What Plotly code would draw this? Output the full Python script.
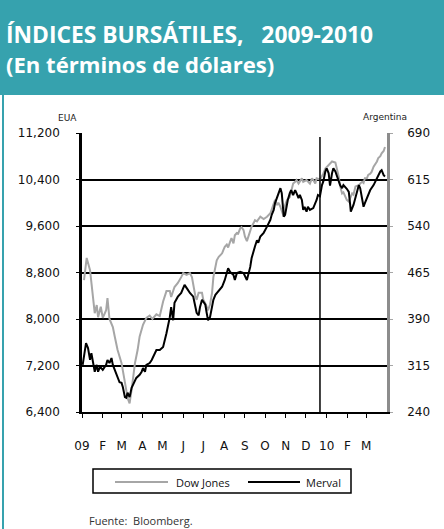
import plotly.graph_objects as go

# ---------------- data ----------------
dow_dates = [
    "2009-01-04","2009-01-08","2009-01-13","2009-01-15","2009-01-17","2009-01-18","2009-01-20","2009-01-23",
    "2009-01-25","2009-01-29","2009-02-01","2009-02-06","2009-02-08","2009-02-11","2009-02-16","2009-02-19",
    "2009-02-23","2009-03-01","2009-03-06","2009-03-08","2009-03-10","2009-03-13","2009-03-16","2009-03-18",
    "2009-03-21","2009-03-25","2009-03-28","2009-04-02","2009-04-07","2009-04-12","2009-04-16","2009-04-22",
    "2009-04-27","2009-05-02","2009-05-07","2009-05-12","2009-05-14","2009-05-19","2009-05-24","2009-05-29",
    "2009-06-01","2009-06-06","2009-06-11","2009-06-14","2009-06-16","2009-06-19","2009-06-21","2009-06-24",
    "2009-06-29","2009-07-01","2009-07-04","2009-07-07","2009-07-08","2009-07-11","2009-07-14","2009-07-16",
    "2009-07-19","2009-07-21","2009-07-24","2009-07-29","2009-07-31","2009-08-02","2009-08-05","2009-08-07",
    "2009-08-10","2009-08-12","2009-08-15","2009-08-17","2009-08-20","2009-08-22","2009-08-25","2009-08-27",
    "2009-08-30","2009-09-01","2009-09-04","2009-09-06","2009-09-09","2009-09-11","2009-09-14","2009-09-16",
    "2009-09-19","2009-09-21","2009-09-24","2009-09-29","2009-10-04","2009-10-09","2009-10-14","2009-10-16",
    "2009-10-19","2009-10-21","2009-10-24","2009-10-26","2009-10-29","2009-10-31","2009-11-03","2009-11-07",
    "2009-11-12","2009-11-15","2009-11-17","2009-11-20","2009-11-22","2009-11-25","2009-11-27","2009-12-02",
    "2009-12-07","2009-12-10","2009-12-12","2009-12-15","2009-12-17","2009-12-22","2009-12-25","2009-12-27",
    "2009-12-30","2010-01-04","2010-01-09","2010-01-14","2010-01-16","2010-01-19","2010-01-21","2010-01-24",
    "2010-01-26","2010-01-29","2010-01-31","2010-02-03","2010-02-05","2010-02-08","2010-02-10","2010-02-13",
    "2010-02-15","2010-02-18","2010-02-20","2010-02-23","2010-02-25","2010-02-27","2010-03-02","2010-03-04",
    "2010-03-07","2010-03-09","2010-03-12","2010-03-14","2010-03-17","2010-03-19","2010-03-22","2010-03-24",
    "2010-03-27","2010-03-29",
]
dow_values = [
    8670, 9050, 8840, 8620, 8450, 8270, 8100, 8240,
    8030, 8210, 8020, 8150, 8360, 8000, 7860, 7690,
    7470, 7240, 6950, 6780, 6640, 6550, 6780, 7000,
    7240, 7470, 7700, 7900, 8020, 8060, 8000, 8080,
    8050, 8300, 8480, 8480, 8380, 8550, 8620, 8720,
    8790, 8760, 8790, 8720, 8580, 8400, 8330, 8450,
    8450, 8330, 8270, 8180, 8150, 8250, 8450, 8720,
    8900, 9010, 9070, 9130, 9190, 9240, 9280, 9230,
    9330, 9390, 9300, 9440, 9480, 9470, 9560, 9580,
    9530, 9420, 9340, 9420, 9530, 9590, 9650, 9700,
    9680, 9720, 9760, 9720, 9760, 9820, 9990, 10050,
    9960, 10000, 9930, 9870, 9760, 9960, 10050, 10100,
    10330, 10360, 10390, 10330, 10360, 10420, 10360, 10390,
    10330, 10420, 10390, 10330, 10420, 10400, 10460, 10500,
    10590, 10650, 10710, 10690, 10600, 10450, 10290, 10160,
    10180, 10100, 10050, 10020, 10080, 10160, 10140, 10280,
    10290, 10300, 10330, 10360, 10340, 10420, 10420, 10480,
    10500, 10530, 10620, 10650, 10710, 10770, 10800, 10850,
    10890, 10960,
]

merval_dates = [
    "2009-01-02","2009-01-07","2009-01-10","2009-01-13","2009-01-15","2009-01-18","2009-01-20","2009-01-23",
    "2009-01-25","2009-01-28","2009-02-01","2009-02-06","2009-02-08","2009-02-11","2009-02-14","2009-02-16",
    "2009-02-19","2009-02-21","2009-02-24","2009-02-26","2009-03-01","2009-03-03","2009-03-06","2009-03-08",
    "2009-03-10","2009-03-13","2009-03-16","2009-03-18","2009-03-23","2009-03-28","2009-03-31","2009-04-02",
    "2009-04-05","2009-04-07","2009-04-12","2009-04-15","2009-04-17","2009-04-22","2009-04-27","2009-05-02",
    "2009-05-07","2009-05-09","2009-05-12","2009-05-14","2009-05-17","2009-05-19","2009-05-22","2009-05-24",
    "2009-05-29","2009-06-01","2009-06-03","2009-06-08","2009-06-11","2009-06-16","2009-06-19","2009-06-21",
    "2009-06-24","2009-06-26","2009-06-29","2009-07-01","2009-07-04","2009-07-06","2009-07-08","2009-07-11",
    "2009-07-14","2009-07-16","2009-07-19","2009-07-21","2009-07-29","2009-08-02","2009-08-05","2009-08-07",
    "2009-08-10","2009-08-15","2009-08-17","2009-08-20","2009-08-25","2009-08-30","2009-09-04","2009-09-09",
    "2009-09-11","2009-09-14","2009-09-16","2009-09-19","2009-09-21","2009-09-24","2009-09-29","2009-10-04",
    "2009-10-09","2009-10-11","2009-10-14","2009-10-16","2009-10-19","2009-10-21","2009-10-24","2009-10-26",
    "2009-10-29","2009-10-31","2009-11-03","2009-11-04","2009-11-07","2009-11-09","2009-11-12","2009-11-15",
    "2009-11-17","2009-11-20","2009-11-22","2009-11-25","2009-11-27","2009-11-29","2009-12-02","2009-12-04",
    "2009-12-07","2009-12-12","2009-12-15","2009-12-17","2009-12-19","2009-12-22","2009-12-25","2009-12-27",
    "2009-12-30","2010-01-01","2010-01-04","2010-01-06","2010-01-09","2010-01-11","2010-01-14","2010-01-16",
    "2010-01-19","2010-01-21","2010-01-24","2010-01-26","2010-01-31","2010-02-03","2010-02-05","2010-02-06",
    "2010-02-10","2010-02-13","2010-02-15","2010-02-18","2010-02-20","2010-02-23","2010-02-25","2010-02-27",
    "2010-03-02","2010-03-04","2010-03-07","2010-03-12","2010-03-14","2010-03-17","2010-03-19","2010-03-22",
    "2010-03-24","2010-03-27","2010-03-29",
]
merval_values = [
    316, 351, 343, 324, 335, 313, 305, 316,
    305, 313, 308, 316, 324, 319, 327, 316,
    308, 303, 295, 288, 287, 280, 264, 263,
    271, 264, 279, 284, 295, 300, 305, 311,
    305, 316, 319, 324, 329, 340, 340, 345,
    367, 377, 393, 409, 388, 416, 421, 426,
    432, 440, 445, 437, 432, 426, 409, 400,
    396, 409, 421, 417, 413, 400, 388, 393,
    409, 421, 429, 432, 442, 453, 466, 472,
    466, 461, 453, 464, 466, 464, 453, 474,
    488, 501, 507, 517, 513, 523, 529, 539,
    550, 558, 566, 577, 585, 593, 601, 593,
    555, 558, 577, 582, 593, 598, 590, 598,
    593, 585, 590, 582, 566, 571, 563, 571,
    566, 569, 577, 582, 590, 588, 606, 612,
    628, 633, 625, 605, 625, 633, 628, 622,
    611, 606, 601, 606, 600, 595, 575, 563,
    574, 585, 595, 606, 601, 580, 571, 577,
    585, 593, 598, 606, 611, 617, 622, 628,
    630, 622, 620,
]
assert len(dow_dates) == len(dow_values)
assert len(merval_dates) == len(merval_values)

series_names = ["Dow Jones", "Merval"]
month_ticks = ["2009-01-01","2009-02-01","2009-03-01","2009-04-01","2009-05-01","2009-06-01",
               "2009-07-01","2009-08-01","2009-09-01","2009-10-01","2009-11-01","2009-12-01",
               "2010-01-01","2010-02-01","2010-03-01"]
month_labels = ["09","F","M","A","M","J","J","A","S","O","N","D","10","F","M"]
x_range = ["2009-01-01", "2010-04-01"]
divider_date = "2009-12-22"
divider_top = 11130

left_ticks = [6400, 7200, 8000, 8800, 9600, 10400, 11200]
right_ticks = [240, 315, 390, 465, 540, 615, 690]

# ---------------- layout helpers ----------------
W, H = 444, 529
L, R, T, B = 82, 387, 133, 412
def px(xp):
    return (xp - L) / (R - L)
def py(yp):
    return (B - yp) / (B - T)

TEAL = "#36a2ae"
GRAY = "#a6a6a6"
FONT = "DejaVu Sans"
TFONT = "Open Sans"

fig = go.Figure()
fig.add_trace(go.Scatter(x=dow_dates, y=dow_values, name=series_names[0], mode="lines",
                         line=dict(color=GRAY, width=2), yaxis="y", showlegend=False))
fig.add_trace(go.Scatter(x=merval_dates, y=merval_values, name=series_names[1], mode="lines",
                         line=dict(color="black", width=2), yaxis="y2", showlegend=False))

leg_y = py(482)
shapes = [
    dict(type="rect", xref="paper", yref="paper", x0=px(0), x1=px(W), y0=py(95), y1=py(0),
         fillcolor=TEAL, line=dict(width=0), layer="below"),
    dict(type="line", xref="paper", yref="paper", x0=px(3), x1=px(3), y0=py(H), y1=py(95),
         line=dict(color=TEAL, width=2)),
    dict(type="line", xref="x", yref="y", x0=divider_date, x1=divider_date, y0=left_ticks[0], y1=divider_top,
         line=dict(color="black", width=1.5)),
    # legend box and keys
    dict(type="rect", xref="paper", yref="paper", x0=px(93), x1=px(351), y0=py(493), y1=py(469),
         line=dict(color="black", width=1.5), fillcolor="white"),
    dict(type="line", xref="paper", yref="paper", x0=px(115), x1=px(168), y0=leg_y, y1=leg_y,
         line=dict(color=GRAY, width=2)),
    dict(type="line", xref="paper", yref="paper", x0=px(248), x1=px(300), y0=leg_y, y1=leg_y,
         line=dict(color="black", width=2)),
]

annotations = [
    dict(text="<b>ÍNDICES BURSÁTILES,\u00a0\u00a0 2009-2010</b>", xref="paper", yref="paper",
         x=px(5), y=py(34), xanchor="left", yanchor="middle", showarrow=False, borderpad=0,
         font=dict(family=TFONT, size=22.8, color="white")),
    dict(text="<b>(En términos de dólares)</b>", xref="paper", yref="paper",
         x=px(5), y=py(64), xanchor="left", yanchor="middle", showarrow=False, borderpad=0,
         font=dict(family=TFONT, size=22.1, color="white")),
    dict(text="EUA", xref="paper", yref="paper", x=px(67), y=py(118), xanchor="center", yanchor="middle",
         showarrow=False, font=dict(family=FONT, size=9, color="#222")),
    dict(text="Argentina", xref="paper", yref="paper", x=px(385), y=py(117), xanchor="center", yanchor="middle",
         showarrow=False, font=dict(family=FONT, size=9, color="#222")),
    dict(text=series_names[0], xref="paper", yref="paper", x=px(174), y=leg_y, xanchor="left", yanchor="middle",
         showarrow=False, font=dict(family=TFONT, size=11, color="#111")),
    dict(text=series_names[1], xref="paper", yref="paper", x=px(304), y=leg_y, xanchor="left", yanchor="middle",
         showarrow=False, font=dict(family=TFONT, size=11, color="#111")),
    dict(text="Fuente:\u00a0 Bloomberg.", xref="paper", yref="paper", x=px(87), y=py(520), xanchor="left",
         yanchor="middle", showarrow=False, font=dict(family=TFONT, size=11, color="#333")),
]

fig.update_layout(
    width=W, height=H,
    margin=dict(l=L, r=W - R, t=T, b=H - B, pad=0, autoexpand=False),
    paper_bgcolor="white", plot_bgcolor="white",
    showlegend=False,
    xaxis=dict(type="date", range=x_range, tickvals=month_ticks, ticktext=month_labels,
               ticks="outside", ticklen=4, tickcolor="black", tickwidth=1,
               showline=True, linecolor="black", linewidth=1.5, showgrid=False, zeroline=False,
               tickfont=dict(family=FONT, size=12, color="#111"), ticklabelstandoff=18,
               tickangle=0),
    yaxis=dict(range=[left_ticks[0], left_ticks[-1]], tickvals=left_ticks, tickformat=",d",
               ticks="outside", ticklen=3, tickcolor="black", showline=True, linecolor="black",
               linewidth=2.5, showgrid=True, gridcolor="black", gridwidth=1.5, zeroline=False,
               tickfont=dict(family=FONT, size=12, color="#111"), ticklabelstandoff=14),
    yaxis2=dict(range=[right_ticks[0], right_ticks[-1]], tickvals=right_ticks, overlaying="y", side="right",
                ticks="outside", ticklen=3, tickcolor=GRAY, showline=True, linecolor="#8c8c8c",
                linewidth=2.5, showgrid=False, zeroline=False,
                tickfont=dict(family=FONT, size=12, color="#111"), ticklabelstandoff=12),
    shapes=shapes, annotations=annotations,
)

fig.write_html("out.html", config={"displayModeBar": False},
               post_script="document.body.style.margin='0';")
